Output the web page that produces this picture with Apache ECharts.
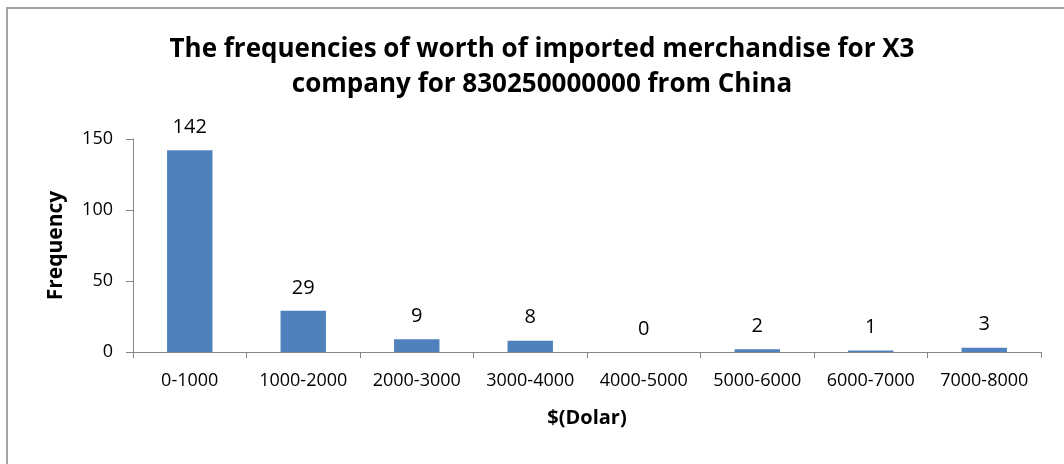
<!DOCTYPE html>
<html>
<head>
<meta charset="utf-8">
<script src="https://cdn.jsdelivr.net/npm/echarts@6/dist/echarts.min.js"></script>
<style>
  html, body { margin: 0; padding: 0; background: #fff; overflow: hidden; }
  #frame { position: absolute; left: 6px; top: 7px; width: 1100px; height: 500px;
           border-top: 2px solid #a3a3a3; border-left: 2px solid #a3a3a3; box-sizing: border-box; }
  #chart { position: absolute; left: 0; top: 0; width: 1064px; height: 464px; }
</style>
</head>
<body>
<div id="frame"></div>
<div id="chart"></div>
<script>
const categories = ['0-1000', '1000-2000', '2000-3000', '3000-4000', '4000-5000', '5000-6000', '6000-7000', '7000-8000'];
const frequencies = [142, 29, 9, 8, 0, 2, 1, 3];
const yTicks = [0, 50, 100, 150];

const font = '"Open Sans", "Noto Sans", sans-serif';
const axisGray = '#868686';

const chart = echarts.init(document.getElementById('chart'));
chart.setOption({
  animation: false,
  title: {
    text: 'The frequencies of worth of imported merchandise for X3\ncompany for 830250000000 from China',
    left: 537,
    top: 27,
    textAlign: 'center',
    textStyle: { fontFamily: font, fontWeight: 'bold', fontSize: 26, lineHeight: 35, color: '#000' }
  },
  grid: { left: 133, right: 23, top: 139, bottom: 112 },
  xAxis: {
    type: 'category',
    data: categories,
    name: '$(Dolar)',
    nameLocation: 'middle',
    nameGap: 56,
    nameTextStyle: { fontFamily: font, fontWeight: 'bold', fontSize: 20, color: '#000' },
    axisLine: { lineStyle: { color: axisGray, width: 1 } },
    axisTick: { show: true, alignWithLabel: false, length: 6, lineStyle: { color: axisGray } },
    axisLabel: { fontFamily: font, fontSize: 18, color: '#000', margin: 20, interval: 0 }
  },
  yAxis: {
    type: 'value',
    min: yTicks[0],
    max: yTicks[yTicks.length - 1],
    interval: yTicks[1] - yTicks[0],
    name: 'Frequency',
    nameLocation: 'middle',
    nameGap: 66,
    nameTextStyle: { fontFamily: font, fontWeight: 'bold', fontSize: 21, color: '#000' },
    axisLine: { show: true, lineStyle: { color: axisGray, width: 1 } },
    axisTick: { show: true, length: 7, lineStyle: { color: axisGray } },
    splitLine: { show: false },
    axisLabel: { fontFamily: font, fontSize: 18, color: '#000', margin: 20 }
  },
  series: [{
    type: 'bar',
    data: frequencies,
    barWidth: '40%',
    itemStyle: { color: '#4F81BD' },
    label: {
      show: true,
      position: 'top',
      distance: 13,
      fontFamily: font,
      fontSize: 20,
      color: '#000'
    }
  }]
});
</script>
</body>
</html>
